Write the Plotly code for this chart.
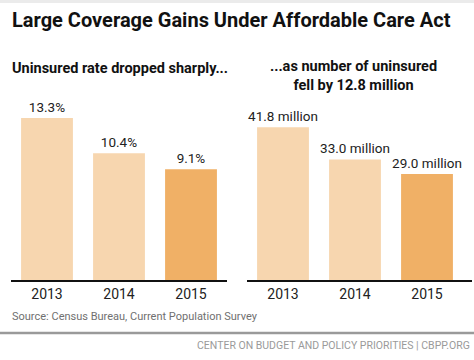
import plotly.graph_objects as go

W, H = 474, 360

years = ["2013", "2014", "2015"]
rate_values = [13.3, 10.4, 9.1]
rate_labels = ["13.3%", "10.4%", "9.1%"]
count_values = [41.8, 33.0, 29.0]
count_labels = ["41.8 million", "33.0 million", "29.0 million"]

LIGHT = "#F7D6AF"
DARK = "#F0B066"
bar_colors = [LIGHT, LIGHT, DARK]

def px(x):
    return x / W

def py(y):
    return 1 - y / H

fig = go.Figure()

val_font = dict(family="Roboto", size=13.5, color="#222222")

fig.add_trace(go.Bar(
    x=years, y=rate_values, text=rate_labels, textposition="outside",
    textfont=val_font, marker=dict(color=bar_colors, line=dict(width=0)),
    xaxis="x", yaxis="y", cliponaxis=False, constraintext="none", hoverinfo="skip",
))
fig.add_trace(go.Bar(
    x=years, y=count_values, text=count_labels, textposition="outside",
    textfont=val_font, marker=dict(color=bar_colors, line=dict(width=0)),
    xaxis="x2", yaxis="y2", cliponaxis=False, constraintext="none", hoverinfo="skip",
))

ybot = py(280)
ytop = py(100)
plot_h = 180.0

tick_font = dict(family="Roboto", size=14, color="#222222")
xcommon = dict(type="category", showgrid=False, zeroline=False, showline=True,
               linecolor="#111111", linewidth=2, ticks="", tickfont=tick_font,
               fixedrange=True)
ycommon = dict(showgrid=False, zeroline=False, showline=False, showticklabels=False,
               ticks="", fixedrange=True)

fig.update_layout(
    width=W, height=H,
    margin=dict(l=0, r=0, t=0, b=0),
    paper_bgcolor="white", plot_bgcolor="white",
    showlegend=False,
    bargap=0.28,
    xaxis=dict(domain=[px(11), px(227)], range=[-0.5, 2.5], anchor="y", **xcommon),
    yaxis=dict(domain=[ybot, ytop], range=[0, plot_h / 12.18], anchor="x", **ycommon),
    xaxis2=dict(domain=[px(247), px(472)], range=[-0.5, 2.625], anchor="y2", **xcommon),
    yaxis2=dict(domain=[ybot, ytop], range=[0, plot_h / 3.655], anchor="x2", **ycommon),
    shapes=[
        dict(type="rect", xref="paper", yref="paper", x0=0, x1=1, y0=py(3), y1=1,
             fillcolor="#EBEBEB", line=dict(width=0), layer="below"),
        dict(type="line", xref="paper", yref="paper", x0=0, x1=1, y0=py(333), y1=py(333),
             line=dict(color="#9A9A9A", width=2.5)),
    ],
    annotations=[
        dict(text="<b>Large Coverage Gains Under Affordable Care Act</b>",
             xref="paper", yref="paper", x=px(10), y=py(20), xanchor="left", yanchor="middle",
             showarrow=False, font=dict(family="Roboto", size=20, color="#111111")),
        dict(text="<b>Uninsured rate dropped sharply...</b>",
             xref="paper", yref="paper", x=px(10), y=py(68), xanchor="left", yanchor="middle",
             showarrow=False, font=dict(family="Roboto", size=14.5, color="#111111")),
        dict(text="<b>...as number of uninsured<br>fell by 12.8 million</b>",
             xref="paper", yref="paper", x=px(353), y=py(75.5), xanchor="center", yanchor="middle",
             showarrow=False, align="center",
             font=dict(family="Roboto", size=14.5, color="#111111")),
        dict(text="Source: Census Bureau, Current Population Survey",
             xref="paper", yref="paper", x=px(10), y=py(316), xanchor="left", yanchor="middle",
             showarrow=False, font=dict(family="Roboto", size=11, color="#707070")),
        dict(text="CENTER ON BUDGET AND POLICY PRIORITIES | CBPP.ORG",
             xref="paper", yref="paper", x=px(472), y=py(345), xanchor="right", yanchor="middle",
             showarrow=False, font=dict(family="Roboto", size=10.5, color="#9A9A9A")),
    ],
)

fig.write_html("out.html", post_script="document.body.style.margin='0';",
               config={"displayModeBar": False, "staticPlot": True})
